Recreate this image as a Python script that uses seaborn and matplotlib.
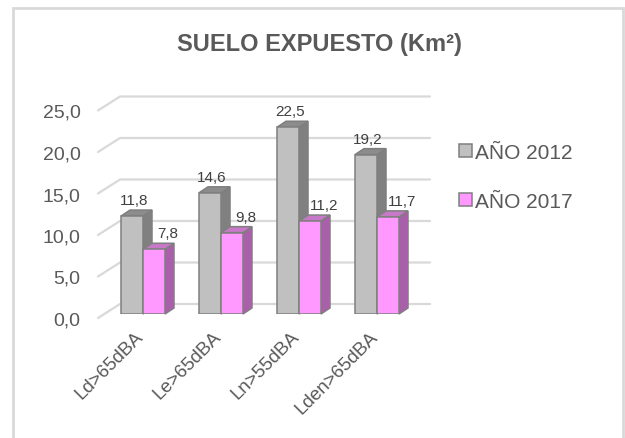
import matplotlib
matplotlib.use("Agg")
import matplotlib.pyplot as plt
import matplotlib.patches as mpatches
import matplotlib.transforms as mtrans
from matplotlib.lines import Line2D
import seaborn as sns
import pandas as pd

categories = ["Ld>65dBA", "Le>65dBA", "Ln>55dBA", "Lden>65dBA"]
series_names = ["AÑO 2012", "AÑO 2017"]
values_2012 = [11.8, 14.6, 22.5, 19.2]
values_2017 = [7.8, 9.8, 11.2, 11.7]
y_ticks = [0, 5, 10, 15, 20, 25]
title = "SUELO EXPUESTO (Km²)"

front_colors = ["#c0c0c0", "#ff99ff"]
side_colors = ["#808080", "#a861a8"]
top_colors = ["#8c8c8c", "#c779c7"]
edge_col = "#7f7f7f"
text_col = "#595959"
grid_col = "#d9d9d9"

sns.set_theme(style="white")
plt.rcParams["font.family"] = ["Liberation Sans", "DejaVu Sans"]

df = pd.DataFrame({
    "cat": categories * 2,
    "serie": [series_names[0]] * 4 + [series_names[1]] * 4,
    "val": values_2012 + values_2017,
})

W, H = 625, 439
fig = plt.figure(figsize=(W / 100, H / 100), dpi=100)
ax = fig.add_axes([104 / W, (H - 315) / H, 312 / W, 207.5 / H])

sns.barplot(data=df, x="cat", y="val", hue="serie", palette=front_colors,
            width=0.564, ax=ax, edgecolor=edge_col, linewidth=1.1,
            legend=False, zorder=3, saturation=1)
ax.set_xlim(-0.5, 3.5)
ax.set_ylim(0, 25)
for s in ax.spines.values():
    s.set_visible(False)
ax.set_xlabel("")
ax.set_ylabel("")
ax.grid(False)

px_x = 312 / 4.0
px_y = 207.5 / 25.0
def dxp(p):
    return p / px_x
def dyp(p):
    return p / px_y

depth_x, depth_y = 9, 6
bars = [p for p in ax.patches if isinstance(p, mpatches.Rectangle)]
n = len(categories)
for i, p in enumerate(bars[: 2 * n]):
    s = i // n
    x0 = p.get_x(); w = p.get_width(); h = p.get_height()
    x1 = x0 + w
    ddx, ddy = dxp(depth_x), dyp(depth_y)
    side = mpatches.Polygon([(x1, 0), (x1 + ddx, ddy), (x1 + ddx, h + ddy), (x1, h)],
                            closed=True, facecolor=side_colors[s], edgecolor=edge_col,
                            linewidth=1.1, zorder=2 + s * 2, clip_on=False)
    top = mpatches.Polygon([(x0, h), (x1, h), (x1 + ddx, h + ddy), (x0 + ddx, h + ddy)],
                           closed=True, facecolor=top_colors[s], edgecolor=edge_col,
                           linewidth=1.1, zorder=2 + s * 2, clip_on=False)
    ax.add_patch(side)
    ax.add_patch(top)
    p.set_zorder(3 + s * 2)
    val = values_2012[i % n] if s == 0 else values_2017[i % n]
    ax.annotate(f"{val:.1f}".replace(".", ","), xy=(x0 + w / 2, h),
                xytext=(2 if s == 0 else 14, 16), textcoords="offset pixels",
                ha="center", va="center", fontsize=11, color="#404040",
                zorder=10, annotation_clip=False)

for v in y_ticks:
    xs = [-0.5 - dxp(6), -0.5 + dxp(16), 3.5 + dxp(14)]
    ys = [v - dyp(4), v + dyp(10), v + dyp(10)]
    ax.add_line(Line2D(xs, ys, color=grid_col, linewidth=1.6, zorder=1, clip_on=False))

ax.set_yticks(y_ticks)
ax.set_yticklabels([f"{t:.1f}".replace(".", ",") for t in y_ticks],
                   fontsize=14, color=text_col)
ax.tick_params(axis="y", length=0, pad=17)
for lab in ax.get_yticklabels():
    lab.set_transform(lab.get_transform() + mtrans.ScaledTranslation(0, -4 / 100, fig.dpi_scale_trans))

ax.set_xticks(range(n))
ax.set_xticklabels(categories, rotation=45, ha="right", va="top",
                   rotation_mode="anchor", fontsize=13.5, color=text_col)
ax.tick_params(axis="x", length=0, pad=10)
for lab in ax.get_xticklabels():
    lab.set_transform(lab.get_transform() + mtrans.ScaledTranslation(-8 / 100, 0, fig.dpi_scale_trans))

handles = [mpatches.Patch(facecolor=front_colors[k], edgecolor=edge_col, linewidth=1.1,
                          label=series_names[k]) for k in range(2)]
fig.legend(handles=handles, loc="upper left", bbox_to_anchor=(459 / W, 1 - 144 / H),
           frameon=False, fontsize=15, labelcolor=text_col, handlelength=0.6,
           handleheight=0.6, handletextpad=0.15, labelspacing=1.45,
           borderpad=0, borderaxespad=0)

fig.text(319 / W, 1 - 45 / H, title, ha="center", va="center", fontsize=17,
         fontweight="bold", color=text_col)

fig.patches.append(mpatches.Rectangle((13 / W, -0.05), 610 / W, 1 - 9 / H + 0.05,
                                      transform=fig.transFigure, fill=False,
                                      edgecolor=grid_col, linewidth=2))

fig.savefig("out.png", dpi=100)
